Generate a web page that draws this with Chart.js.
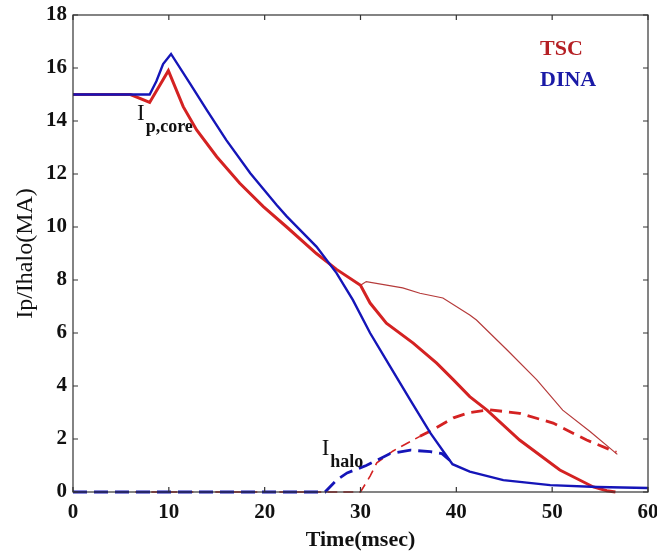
<!DOCTYPE html>
<html>
<head>
<meta charset="utf-8">
<script src="https://cdn.jsdelivr.net/npm/chart.js@4/dist/chart.umd.min.js"></script>
<style>
  html, body { margin: 0; padding: 0; background: #fff; }
  #wrap { width: 657px; height: 554px; }
</style>
</head>
<body>
<div id="wrap"><canvas id="c" width="657" height="554"></canvas></div>
<script>
// ---- data (time in msec, current in MA) ----
const dinaIpX   = [0, 8.0, 8.7, 9.4, 10.23, 12.2, 13.95, 16.0, 18.5, 21.25, 22.3, 25.4, 27.5, 29.2, 31.0, 33.1, 35.2, 37.3, 39.3, 39.6, 41.4, 44.9, 49.8, 54.7, 60];
const dinaIpY   = [15, 15, 15.5, 16.15, 16.53, 15.42, 14.42, 13.28, 12.03, 10.83, 10.4, 9.26, 8.26, 7.25, 6.0, 4.73, 3.47, 2.22, 1.2, 1.05, 0.77, 0.45, 0.26, 0.19, 0.15];

const tscIpX    = [0, 6.0, 8.0, 9.95, 11.5, 12.9, 15.0, 17.4, 19.86, 22.3, 25.4, 27.5, 30.0, 31.0, 32.7, 35.5, 37.95, 39.7, 41.4, 43.2, 46.6, 50.8, 54.3, 55.7, 56.6];
const tscIpY    = [15, 15, 14.7, 15.9, 14.54, 13.66, 12.65, 11.65, 10.77, 10.0, 9.0, 8.4, 7.8, 7.13, 6.37, 5.62, 4.86, 4.23, 3.6, 3.09, 1.96, 0.83, 0.19, 0.05, 0];

const tscIp2X   = [0, 6.0, 8.0, 9.95, 11.5, 12.9, 15.0, 17.4, 19.86, 22.3, 25.4, 27.5, 30.0, 30.6, 34.4, 36.2, 38.6, 41.4, 42.1, 45.3, 48.4, 51.1, 53.95, 56.8];
const tscIp2Y   = [15, 15, 14.7, 15.9, 14.54, 13.66, 12.65, 11.65, 10.77, 10.0, 9.0, 8.4, 7.8, 7.94, 7.7, 7.5, 7.32, 6.68, 6.49, 5.36, 4.23, 3.09, 2.28, 1.42];

const dinaHaloX = [0, 26.3, 27.5, 28.6, 30.6, 33.1, 35.2, 37.3, 38.5, 39.3];
const dinaHaloY = [0, 0, 0.45, 0.72, 1.0, 1.45, 1.58, 1.52, 1.45, 1.2];

const tscHaloAX = [6.5, 30.0, 31.0, 31.7, 33.4, 36.2];
const tscHaloAY = [0, 0, 0.6, 1.1, 1.55, 2.1];
const tscHaloBX = [36.2, 37.3, 39.7, 41.4, 43.5, 46.6, 50.1, 53.6, 56.7];
const tscHaloBY = [2.1, 2.3, 2.8, 3.0, 3.1, 2.97, 2.6, 1.96, 1.5];

const xTicks = [0, 10, 20, 30, 40, 50, 60];
const yTicks = [0, 2, 4, 6, 8, 10, 12, 14, 16, 18];
const legendLabels = ['TSC', 'DINA'];

const pts = (xs, ys) => xs.map((x, i) => ({x: x, y: ys[i]}));

const BLUE = '#1515b8';
const RED = '#d42222';
const RED_THIN = '#b53a3a';
const SERIF = '"Liberation Serif", "Times New Roman", serif';

const framePlugin = {
  id: 'frame',
  afterDatasetsDraw(chart) {
    const {ctx, chartArea: a, scales: {x, y}} = chart;
    ctx.save();
    ctx.strokeStyle = '#333';
    ctx.lineWidth = 1.2;
    ctx.strokeRect(a.left, a.top, a.right - a.left, a.bottom - a.top);
    const L = 5;
    ctx.beginPath();
    xTicks.forEach(v => {
      const px = x.getPixelForValue(v);
      ctx.moveTo(px, a.bottom); ctx.lineTo(px, a.bottom - L);
      ctx.moveTo(px, a.top); ctx.lineTo(px, a.top + L);
    });
    yTicks.forEach(v => {
      const py = y.getPixelForValue(v);
      ctx.moveTo(a.left, py); ctx.lineTo(a.left + L, py);
      ctx.moveTo(a.right, py); ctx.lineTo(a.right - L, py);
    });
    ctx.stroke();

    // legend texts
    ctx.font = 'bold 22px ' + SERIF;
    ctx.textAlign = 'left';
    ctx.textBaseline = 'alphabetic';
    ctx.fillStyle = '#b51f24';
    ctx.fillText(legendLabels[0], 540, 55);
    ctx.fillStyle = '#1a1aa6';
    ctx.fillText(legendLabels[1], 540, 86);

    // annotations
    ctx.fillStyle = '#111';
    const ann = (xv, yv, sub) => {
      const px = x.getPixelForValue(xv), py = y.getPixelForValue(yv);
      ctx.font = '23px ' + SERIF;
      ctx.fillText('I', px, py);
      const w = ctx.measureText('I').width;
      ctx.font = 'bold 18px ' + SERIF;
      ctx.fillText(sub, px + w + 1, py + 12);
    };
    ann(6.68, 14.04, 'p,core');
    ann(25.95, 1.4, 'halo');
    ctx.restore();
  }
};

new Chart(document.getElementById('c'), {
  type: 'line',
  data: {
    datasets: [
      { label: 'DINA Ip', data: pts(dinaIpX, dinaIpY), borderColor: BLUE, borderWidth: 2.4 },
      { label: 'TSC Ip', data: pts(tscIpX, tscIpY), borderColor: RED, borderWidth: 3 },
      { label: 'TSC Ip (2)', data: pts(tscIp2X, tscIp2Y), borderColor: RED_THIN, borderWidth: 1.2 },
      { label: 'DINA Ihalo', data: pts(dinaHaloX, dinaHaloY), borderColor: BLUE, borderWidth: 2.8, borderDash: [14, 7] },
      { label: 'TSC Ihalo', data: pts(tscHaloAX, tscHaloAY), borderColor: RED, borderWidth: 1.6, borderDash: [10, 6] },
      { label: 'TSC Ihalo b', data: pts(tscHaloBX, tscHaloBY), borderColor: RED, borderWidth: 2.8, borderDash: [12, 7] }
    ]
  },
  options: {
    responsive: false,
    animation: false,
    elements: { point: { radius: 0 }, line: { tension: 0, fill: false } },
    datasets: { line: { clip: 10 } },
    layout: { padding: { top: 15, right: 9, left: 0, bottom: 0 } },
    plugins: { legend: { display: false }, tooltip: { enabled: false } },
    scales: {
      x: {
        type: 'linear', min: 0, max: 60,
        afterBuildTicks: s => { s.ticks = xTicks.map(v => ({value: v})); },
        afterFit: s => { s.height = 62; s.paddingLeft = 0; s.paddingRight = 0; },
        grid: { display: false, drawTicks: false },
        border: { display: false },
        ticks: { color: '#111', padding: 8, maxRotation: 0, font: { family: SERIF, size: 21, weight: 'bold' } },
        title: { display: true, text: 'Time(msec)', color: '#111', padding: { top: 0, bottom: 0 }, font: { family: SERIF, size: 22, weight: 'bold' } }
      },
      y: {
        type: 'linear', min: 0, max: 18,
        afterBuildTicks: s => { s.ticks = yTicks.map(v => ({value: v})); },
        afterFit: s => { s.width = 73; s.paddingTop = 0; s.paddingBottom = 0; },
        grid: { display: false, drawTicks: false },
        border: { display: false },
        ticks: { color: '#111', padding: 6, font: { family: SERIF, size: 21, weight: 'bold' } },
        title: { display: true, text: 'Ip/Ihalo(MA)', color: '#111', padding: { top: 11, bottom: 0 }, font: { family: SERIF, size: 24, weight: 'normal' } }
      }
    }
  },
  plugins: [framePlugin]
});
</script>
</body>
</html>
